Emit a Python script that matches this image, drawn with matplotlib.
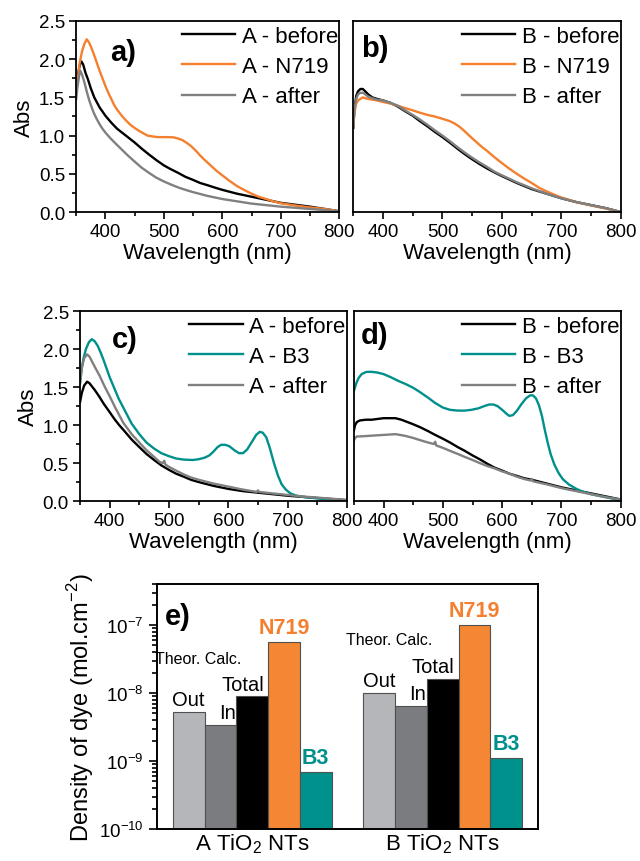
import numpy as np
import matplotlib.pyplot as plt
from matplotlib.ticker import MultipleLocator, LogLocator, NullFormatter

plt.rcParams["font.family"] = ["Liberation Sans", "DejaVu Sans"]
plt.rcParams["mathtext.fontset"] = "custom"
plt.rcParams["mathtext.rm"] = "Liberation Sans"

ORANGE = "#f4802f"
TEAL = "#00908c"
GREY = "#808080"

# --- UV-vis spectra, sample A with N719 ---
wl_a_before = [350, 353, 356, 359, 362, 366, 370, 375, 381, 390, 400, 410, 420, 430, 440, 450, 462, 475, 487, 500,
               512, 525, 537, 550, 562, 575, 587, 600, 625, 650, 675, 700, 725, 750, 775, 800]
abs_a_before = [1.62, 1.80, 1.92, 1.97, 1.93, 1.82, 1.74, 1.62, 1.50, 1.37, 1.26, 1.17, 1.09, 1.03, 0.97, 0.91, 0.83, 0.75, 0.68, 0.61,
                0.56, 0.51, 0.46, 0.42, 0.38, 0.35, 0.32, 0.29, 0.24, 0.20, 0.16, 0.12, 0.095, 0.07, 0.04, 0.01]
wl_a_n719 = [350, 353, 356, 360, 364, 368, 372, 376, 380, 385, 390, 395, 400, 405, 410, 415, 420, 428, 435, 443,
             450, 458, 465, 472, 480, 490, 500, 510, 518, 525, 532, 540, 547, 555, 562, 570, 580, 590, 600, 612,
             625, 637, 650, 662, 675, 687, 700, 725, 750, 775, 800]
abs_a_n719 = [1.55, 1.75, 1.95, 2.10, 2.20, 2.26, 2.22, 2.15, 2.07, 1.96, 1.85, 1.75, 1.65, 1.56, 1.48, 1.40, 1.34, 1.26, 1.20, 1.14,
              1.10, 1.06, 1.03, 1.00, 0.99, 0.98, 0.98, 0.98, 0.975, 0.96, 0.94, 0.90, 0.86, 0.80, 0.74, 0.68, 0.61, 0.54, 0.48, 0.41,
              0.34, 0.29, 0.24, 0.20, 0.17, 0.14, 0.115, 0.085, 0.06, 0.04, 0.01]
wl_a_after = [350, 352, 355, 357, 360, 364, 368, 372, 376, 380, 385, 390, 395, 400, 408, 417, 425, 437, 450, 462,
              475, 487, 500, 512, 525, 537, 550, 575, 600, 625, 650, 675, 700, 725, 750, 775, 800]
abs_a_after = [1.48, 1.62, 1.78, 1.85, 1.80, 1.70, 1.58, 1.47, 1.38, 1.30, 1.22, 1.15, 1.09, 1.04, 0.97, 0.90, 0.84, 0.75, 0.66, 0.58,
               0.51, 0.45, 0.40, 0.36, 0.32, 0.29, 0.26, 0.21, 0.17, 0.14, 0.11, 0.09, 0.07, 0.055, 0.04, 0.025, 0.01]

# --- sample B with N719 ---
wl_b = [350, 352, 355, 358, 362, 366, 370, 375, 382, 390, 400, 412, 425, 437, 450, 462, 475, 487, 500, 512,
        525, 537, 550, 562, 575, 587, 600, 625, 650, 675, 700, 725, 750, 775, 800]
abs_b_before = [1.10, 1.35, 1.52, 1.58, 1.61, 1.61, 1.58, 1.54, 1.50, 1.48, 1.46, 1.43, 1.38, 1.32, 1.26, 1.19, 1.12, 1.05, 0.98, 0.91,
                0.83, 0.76, 0.69, 0.63, 0.57, 0.52, 0.47, 0.38, 0.30, 0.24, 0.18, 0.13, 0.09, 0.05, 0.0]
abs_b_after = [1.15, 1.35, 1.48, 1.54, 1.56, 1.56, 1.54, 1.51, 1.49, 1.47, 1.46, 1.43, 1.39, 1.33, 1.27, 1.21, 1.14, 1.07, 1.00, 0.93,
               0.85, 0.78, 0.71, 0.65, 0.59, 0.53, 0.48, 0.39, 0.31, 0.24, 0.18, 0.13, 0.09, 0.05, 0.0]
wl_b_n719 = [350, 352, 355, 358, 362, 366, 370, 375, 382, 390, 400, 412, 425, 437, 450, 462, 475, 487, 500, 512,
             520, 528, 537, 545, 555, 565, 575, 587, 600, 612, 625, 637, 650, 662, 675, 687, 700, 725, 750, 775, 800]
abs_b_n719 = [1.13, 1.30, 1.42, 1.46, 1.48, 1.50, 1.49, 1.48, 1.47, 1.46, 1.44, 1.42, 1.39, 1.36, 1.33, 1.30, 1.27, 1.25, 1.22, 1.19,
              1.16, 1.12, 1.06, 1.00, 0.93, 0.86, 0.80, 0.72, 0.64, 0.57, 0.50, 0.44, 0.38, 0.32, 0.27, 0.23, 0.19, 0.13, 0.085, 0.045, 0.0]

# --- sample A with B3 ---
wl_c_before = [350, 353, 357, 362, 366, 370, 375, 382, 390, 400, 408, 416, 425, 437, 450, 462, 475, 487, 500, 512,
               525, 537, 550, 575, 600, 625, 650, 675, 700, 725, 750, 775, 800]
abs_c_before = [1.30, 1.42, 1.52, 1.57, 1.55, 1.51, 1.46, 1.38, 1.28, 1.17, 1.08, 1.00, 0.92, 0.81, 0.71, 0.62, 0.54, 0.47, 0.41, 0.36,
                0.32, 0.28, 0.25, 0.20, 0.16, 0.13, 0.11, 0.09, 0.07, 0.055, 0.04, 0.025, 0.01]
wl_c_b3 = [350, 353, 356, 360, 365, 370, 375, 380, 385, 390, 395, 400, 407, 415, 425, 437, 450, 462, 475, 487,
           500, 512, 525, 540, 550, 560, 568, 575, 582, 588, 595, 602, 610, 618, 625, 632, 640, 647, 653, 658,
           664, 670, 677, 684, 690, 697, 705, 715, 730, 750, 775, 800]
abs_c_b3 = [1.55, 1.75, 1.88, 2.00, 2.09, 2.13, 2.10, 2.04, 1.95, 1.85, 1.74, 1.63, 1.50, 1.35, 1.20, 1.02, 0.88, 0.77, 0.69, 0.63,
            0.59, 0.56, 0.545, 0.54, 0.55, 0.57, 0.60, 0.65, 0.71, 0.74, 0.74, 0.72, 0.67, 0.63, 0.63, 0.68, 0.78, 0.87, 0.91, 0.90,
            0.84, 0.70, 0.50, 0.33, 0.22, 0.15, 0.10, 0.07, 0.05, 0.035, 0.02, 0.01]
wl_c_after = [350, 353, 357, 362, 366, 370, 376, 383, 392, 400, 410, 423, 437, 450, 462, 475, 485, 490, 492, 494,
              500, 512, 525, 537, 550, 575, 600, 625, 648, 650, 652, 675, 700, 725, 750, 775, 800]
abs_c_after = [1.55, 1.75, 1.88, 1.93, 1.90, 1.84, 1.75, 1.65, 1.50, 1.38, 1.22, 1.03, 0.88, 0.77, 0.67, 0.58, 0.51, 0.50, 0.53, 0.48,
               0.45, 0.40, 0.35, 0.31, 0.28, 0.23, 0.19, 0.15, 0.12, 0.14, 0.12, 0.10, 0.08, 0.06, 0.045, 0.03, 0.015]

# --- sample B with B3 ---
wl_d_before = [350, 352, 355, 360, 370, 380, 390, 400, 410, 420, 430, 440, 450, 462, 475, 487, 500, 512, 525, 537,
               550, 562, 575, 587, 600, 612, 625, 637, 650, 675, 700, 725, 750, 775, 800]
abs_d_before = [0.93, 1.00, 1.04, 1.06, 1.07, 1.07, 1.08, 1.09, 1.09, 1.09, 1.07, 1.04, 1.01, 0.97, 0.92, 0.87, 0.82, 0.77, 0.71, 0.66,
                0.60, 0.55, 0.49, 0.44, 0.40, 0.36, 0.33, 0.30, 0.28, 0.23, 0.18, 0.14, 0.10, 0.06, 0.02]
wl_d_b3 = [350, 354, 358, 363, 368, 372, 380, 390, 400, 412, 425, 437, 450, 462, 475, 487, 500, 512, 525, 537,
           548, 560, 570, 578, 585, 592, 600, 607, 612, 618, 625, 632, 640, 647, 652, 657, 662, 667, 672, 677,
           682, 688, 695, 702, 712, 725, 737, 750, 762, 775, 787, 800]
abs_d_b3 = [1.45, 1.55, 1.62, 1.67, 1.69, 1.70, 1.70, 1.69, 1.67, 1.63, 1.58, 1.54, 1.49, 1.43, 1.36, 1.29, 1.23, 1.20, 1.19, 1.19,
            1.20, 1.22, 1.25, 1.27, 1.27, 1.25, 1.20, 1.15, 1.12, 1.13, 1.19, 1.27, 1.35, 1.39, 1.39, 1.35, 1.26, 1.12, 0.93, 0.76,
            0.61, 0.48, 0.37, 0.29, 0.22, 0.16, 0.12, 0.09, 0.07, 0.05, 0.03, 0.01]
wl_d_after = [350, 352, 355, 360, 380, 400, 420, 435, 450, 462, 475, 485, 487, 489, 500, 512, 525, 537, 550, 562,
              575, 587, 600, 612, 625, 637, 648, 650, 652, 675, 700, 725, 750, 775, 800]
abs_d_after = [0.80, 0.83, 0.85, 0.85, 0.86, 0.87, 0.88, 0.86, 0.83, 0.80, 0.77, 0.75, 0.78, 0.73, 0.70, 0.66, 0.62, 0.58, 0.54, 0.50,
               0.46, 0.43, 0.39, 0.36, 0.32, 0.29, 0.27, 0.29, 0.26, 0.22, 0.17, 0.13, 0.09, 0.05, 0.02]

# --- dye loading (mol/cm2) ---
bar_names = ["Out", "In", "Total", "N719", "B3"]
dye_a = [5.2e-9, 3.4e-9, 8.9e-9, 5.6e-8, 6.9e-10]
dye_b = [9.9e-9, 6.5e-9, 1.6e-8, 1.0e-7, 1.1e-9]
bar_colors = ["#b4b6b9", "#7b7c7f", "#000000", "#f58634", "#00918d"]
group_labels = ["A TiO$_2$ NTs", "B TiO$_2$ NTs"]

fig = plt.figure(figsize=(6.4, 8.62), dpi=100)

ax_a = fig.add_axes([0.119, 0.7529, 0.411, 0.2216])
ax_b = fig.add_axes([0.552, 0.7529, 0.418, 0.2216])
ax_c = fig.add_axes([0.125, 0.4176, 0.417, 0.2204])
ax_d = fig.add_axes([0.553, 0.4176, 0.417, 0.2204])
ax_e = fig.add_axes([0.2453, 0.0371, 0.5953, 0.2842])

spectra = [
    (ax_a, "a)", [(wl_a_before, abs_a_before, "black", "A - before"),
                  (wl_a_n719, abs_a_n719, ORANGE, "A - N719"),
                  (wl_a_after, abs_a_after, GREY, "A - after")], True, (0.13, 0.84)),
    (ax_b, "b)", [(wl_b, abs_b_before, "black", "B - before"),
                  (wl_b_n719, abs_b_n719, ORANGE, "B - N719"),
                  (wl_b, abs_b_after, GREY, "B - after")], False, (0.03, 0.86)),
    (ax_c, "c)", [(wl_c_before, abs_c_before, "black", "A - before"),
                  (wl_c_b3, abs_c_b3, TEAL, "A - B3"),
                  (wl_c_after, abs_c_after, GREY, "A - after")], True, (0.12, 0.855)),
    (ax_d, "d)", [(wl_d_before, abs_d_before, "black", "B - before"),
                  (wl_d_b3, abs_d_b3, TEAL, "B - B3"),
                  (wl_d_after, abs_d_after, GREY, "B - after")], False, (0.025, 0.875)),
]

for ax, tag, curves, show_y, tag_pos in spectra:
    for wl, ab, col, lab in curves:
        ax.plot(wl, ab, color=col, lw=1.7, label=lab)
    ax.set_xlim(350, 800)
    ax.set_ylim(0, 2.5)
    ax.xaxis.set_major_locator(MultipleLocator(100))
    ax.xaxis.set_minor_locator(MultipleLocator(50))
    ax.yaxis.set_major_locator(MultipleLocator(0.5))
    ax.yaxis.set_minor_locator(MultipleLocator(0.25))
    ax.tick_params(which="both", direction="out", top=False, right=False,
                   width=1.2, labelsize=13.5, pad=3)
    ax.tick_params(which="major", length=5)
    ax.tick_params(which="minor", length=3)
    if show_y:
        ax.set_ylabel("Abs", fontsize=16, labelpad=3)
    else:
        ax.tick_params(axis="y", which="both", left=False, labelleft=False)
    ax.set_xlabel("Wavelength (nm)", fontsize=16, labelpad=1)
    for sp in ax.spines.values():
        sp.set_linewidth(1.3)
    ax.text(tag_pos[0], tag_pos[1], tag, transform=ax.transAxes, fontsize=21,
            fontweight="bold", va="center", ha="left")
    ax.legend(loc="upper right", bbox_to_anchor=(0.995, 0.975), frameon=False,
              fontsize=16, handlelength=2.4, handletextpad=0.3,
              labelspacing=0.42, borderaxespad=0, borderpad=0)

# --- bar chart of dye density ---
pos_a = np.arange(1, 6)
pos_b = np.arange(7, 12)
ax_e.set_yscale("log")
ax_e.bar(pos_a, dye_a, width=1.0, color=bar_colors, edgecolor="#505050", lw=0.8)
ax_e.bar(pos_b, dye_b, width=1.0, color=bar_colors, edgecolor="#505050", lw=0.8)
ax_e.set_ylim(1e-10, 4e-7)
ax_e.set_xlim(0, 12)
ax_e.set_xticks([3, 9])
ax_e.set_xticklabels(group_labels, fontsize=16)
ax_e.tick_params(axis="x", length=0, pad=2)
ax_e.yaxis.set_major_locator(LogLocator(base=10, numticks=10))
ax_e.yaxis.set_minor_locator(LogLocator(base=10, subs=np.arange(2, 10), numticks=10))
ax_e.yaxis.set_minor_formatter(NullFormatter())
ax_e.tick_params(axis="y", which="both", direction="out", right=False,
                 labelsize=13.5, width=1.2)
ax_e.tick_params(axis="y", which="major", length=6)
ax_e.tick_params(axis="y", which="minor", length=3.5)
ax_e.set_ylabel("Density of dye (mol.cm$^{-2}$)", fontsize=17, labelpad=2)
for sp in ax_e.spines.values():
    sp.set_linewidth(1.4)
ax_e.text(0.02, 0.87, "e)", transform=ax_e.transAxes, fontsize=21,
          fontweight="bold", va="center", ha="left")

for pos, vals in ((pos_a, dye_a), (pos_b, dye_b)):
    out_v, in_v, tot_v, n719_v, b3_v = vals
    ax_e.text(pos[0], out_v * 1.12, "Out", ha="center", va="bottom", fontsize=14.5)
    ax_e.text(pos[1] + 0.22, in_v * 1.1, "In", ha="center", va="bottom", fontsize=14.5)
    ax_e.text(pos[2] - 0.3, tot_v * 1.1, "Total", ha="center", va="bottom", fontsize=14.5)
    ax_e.text(pos[3], n719_v * 1.15, "N719", ha="center", va="bottom", fontsize=15.5,
              fontweight="bold", color=ORANGE)
    ax_e.text(pos[4], b3_v * 1.15, "B3", ha="center", va="bottom", fontsize=15.5,
              fontweight="bold", color=TEAL)
    ax_e.text(pos[0] + 0.3, out_v * 6.2, "Theor. Calc.", ha="center", va="center",
              fontsize=11.5)

fig.savefig("out.png", dpi=100)
